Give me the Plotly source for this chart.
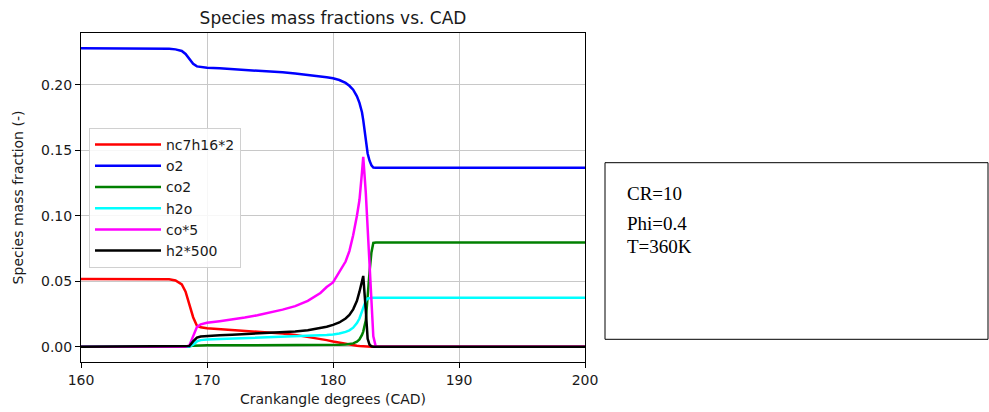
import plotly.graph_objects as go

# Crank angle grid (degrees), denser through the ignition event
cad = [160, 165, 167, 167.5, 168, 168.3, 168.6, 168.9, 169.2, 169.5,
       170, 171, 172, 173, 174, 175, 176, 177, 178, 179,
       179.5, 180, 180.5, 181, 181.3, 181.6, 181.9, 182.1, 182.3, 182.4,
       182.6, 182.75, 182.9, 183.05, 183.2, 183.4, 185, 190, 195, 200]

# Mass fractions (some scaled, as in the legend labels)
nc7h16_x2 = [0.0517, 0.0517, 0.0514, 0.0505, 0.0475, 0.0420, 0.0330, 0.0225, 0.0160, 0.0148,
             0.0140, 0.0134, 0.0128, 0.0122, 0.0115, 0.0108, 0.0100, 0.0090, 0.0076, 0.0060,
             0.0050, 0.0040, 0.0030, 0.0021, 0.0016, 0.0011, 0.0007, 0.0005, 0.0003, 0.0002,
             0.0001, 0.0, 0.0, 0.0, 0.0, 0.0, 0.0, 0.0, 0.0, 0.0]

o2 = [0.2278, 0.2277, 0.2275, 0.2270, 0.2258, 0.2235, 0.2200, 0.2160, 0.2140, 0.2135,
      0.2130, 0.2125, 0.2120, 0.2114, 0.2109, 0.2103, 0.2095, 0.2086, 0.2076, 0.2064,
      0.2057, 0.2049, 0.2036, 0.2014, 0.1992, 0.1962, 0.1912, 0.1862, 0.1790, 0.1730,
      0.1585, 0.1475, 0.1420, 0.1385, 0.1368, 0.1366, 0.1366, 0.1366, 0.1366, 0.1366]

co2 = [0.0, 0.0, 0.0, 0.0, 0.0, 0.0, 0.0003, 0.0008, 0.0010, 0.0010,
       0.0010, 0.0010, 0.0010, 0.0011, 0.0011, 0.0011, 0.0012, 0.0012, 0.0012, 0.0013,
       0.0013, 0.0013, 0.0014, 0.0016, 0.0019, 0.0025, 0.0038, 0.0055, 0.0090, 0.0115,
       0.0200, 0.0400, 0.0570, 0.0720, 0.0792, 0.0795, 0.0795, 0.0795, 0.0795, 0.0795]

h2o = [0.0, 0.0, 0.0, 0.0, 0.0, 0.0, 0.0, 0.0015, 0.0040, 0.0050,
       0.0055, 0.0058, 0.0061, 0.0064, 0.0067, 0.0070, 0.0073, 0.0076, 0.0080, 0.0086,
       0.0089, 0.0093, 0.0100, 0.0113, 0.0125, 0.0145, 0.0180, 0.0215, 0.0270, 0.0300,
       0.0350, 0.0368, 0.0372, 0.0373, 0.0374, 0.0374, 0.0374, 0.0374, 0.0374, 0.0374]

co_x5 = [0.0, 0.0, 0.0, 0.0, 0.0, 0.0, 0.0010, 0.0080, 0.0150, 0.0170,
         0.0183, 0.0195, 0.0207, 0.0222, 0.0240, 0.0260, 0.0283, 0.0310, 0.0350, 0.0410,
         0.0455, 0.0490, 0.0570, 0.0650, 0.0730, 0.0850, 0.1000, 0.1120, 0.1330, 0.1450,
         0.1180, 0.0920, 0.0660, 0.0380, 0.0080, 0.0, 0.0, 0.0, 0.0, 0.0]

h2_x500 = [0.0, 0.0, 0.0, 0.0, 0.0, 0.0, 0.0005, 0.0040, 0.0070, 0.0078,
           0.0083, 0.0088, 0.0092, 0.0096, 0.0100, 0.0104, 0.0109, 0.0116, 0.0126, 0.0142,
           0.0152, 0.0166, 0.0185, 0.0215, 0.0242, 0.0285, 0.0350, 0.0420, 0.0500, 0.0540,
           0.0280, 0.0060, 0.0015, 0.0003, 0.0, 0.0, 0.0, 0.0, 0.0, 0.0]

series = [
    ("nc7h16*2", nc7h16_x2, "#ff0000"),
    ("o2", o2, "#0000ff"),
    ("co2", co2, "#008000"),
    ("h2o", h2o, "#00ffff"),
    ("co*5", co_x5, "#ff00ff"),
    ("h2*500", h2_x500, "#000000"),
]

x_ticks = [160, 170, 180, 190, 200]
y_ticks = [0.00, 0.05, 0.10, 0.15, 0.20]
case_info = ["CR=10", "Phi=0.4", "T=360K"]

FONT = "DejaVu Sans"
TXT = "#1a1a1a"

fig = go.Figure()
for i, (name, vals, color) in enumerate(series):
    fig.add_trace(go.Scatter(
        x=cad, y=vals, name=name, mode="lines",
        line=dict(color=color, width=2.5),
        legendgroup=f"g{i}",
    ))

W, H = 989, 412
L, R, T, B = 81, 404, 33, 50
pw, ph = W - L - R, H - T - B

fig.update_layout(
    width=W, height=H,
    margin=dict(l=L, r=R, t=T, b=B, autoexpand=False),
    paper_bgcolor="white", plot_bgcolor="white",
    font=dict(family=FONT, size=14, color=TXT),
    title=dict(text="Species mass fractions vs. CAD", x=(L + pw / 2) / W, xanchor="center",
               y=1 - 18 / H, yanchor="middle", font=dict(size=17, color=TXT)),
    showlegend=True,
    legend=dict(
        x=(89 - L) / pw, y=(H - B - 128) / ph, xanchor="left", yanchor="top",
        bgcolor="rgba(255,255,255,0.85)", bordercolor="#d0d0d0", borderwidth=1,
        font=dict(size=14, color=TXT), tracegroupgap=0, itemwidth=66,
    ),
    xaxis=dict(
        range=[160, 200], tickvals=x_ticks, ticktext=[str(v) for v in x_ticks],
        showgrid=True, gridcolor="#c8c8c8", gridwidth=1,
        showline=True, linecolor="black", linewidth=1, mirror=True,
        ticks="outside", ticklen=5, tickcolor="black", zeroline=False,
        automargin=False,
        title=dict(text="Crankangle degrees (CAD)", standoff=7, font=dict(size=14)),
    ),
    yaxis=dict(
        range=[-0.0117, 0.2395], tickvals=y_ticks, tickformat=".2f",
        showgrid=True, gridcolor="#c8c8c8", gridwidth=1,
        showline=True, linecolor="black", linewidth=1, mirror=True,
        ticks="outside", ticklen=5, tickcolor="black", zeroline=False,
        automargin=False,
        title=dict(text="Species mass fraction (-)", standoff=14, font=dict(size=14)),
    ),
)

# Side panel with the case parameters
fig.add_shape(type="rect", xref="paper", yref="paper",
              x0=(605 - L) / pw, x1=(988 - L) / pw,
              y0=(H - B - 339.3) / ph, y1=(H - B - 162.7) / ph,
              line=dict(color="black", width=1), fillcolor="white")
for label, yc in zip(case_info, [193.5, 223.0, 246.5]):
    fig.add_annotation(text=label, xref="paper", yref="paper",
                       x=(625 - L) / pw, y=(H - B - yc) / ph,
                       xanchor="left", yanchor="middle", showarrow=False,
                       font=dict(family="Liberation Serif", size=19, color="black"))

fig.write_html("out.html")
